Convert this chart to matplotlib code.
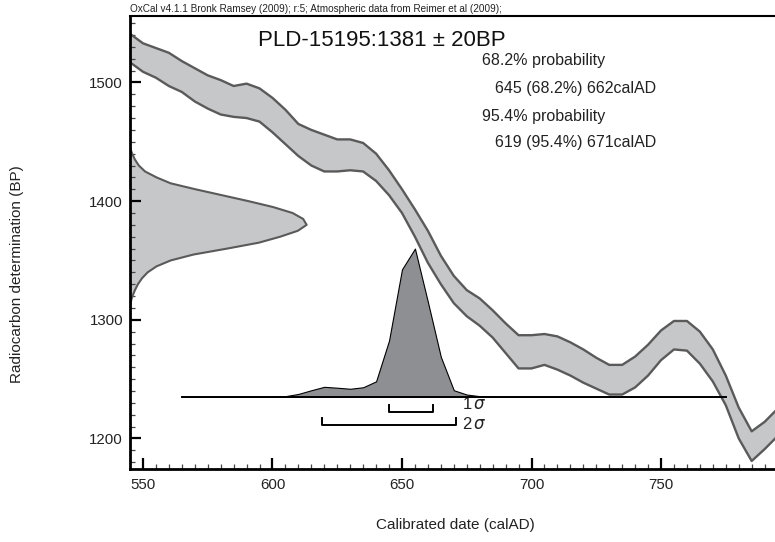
from matplotlib import pyplot as plt
import numpy

plt.rcParams['font.family'] = ['Liberation Sans', 'DejaVu Sans']

# calibration curve band (IntCal09), upper and lower edge in BP
cal_years = [545, 550, 555, 560, 565, 570, 575, 580, 585, 590, 595, 600, 605, 610,
             615, 620, 625, 630, 635, 640, 645, 650, 655, 660, 665, 670, 675, 680,
             685, 690, 695, 700, 705, 710, 715, 720, 725, 730, 735, 740, 745, 750,
             755, 760, 765, 770, 775, 780, 785, 790, 795]
cal_upper = [1541, 1533, 1529, 1525, 1518, 1512, 1506, 1502, 1497, 1499, 1495, 1487,
             1477, 1465, 1460, 1456, 1452, 1452, 1449, 1440, 1426, 1410, 1393, 1375,
             1354, 1337, 1325, 1318, 1308, 1297, 1287, 1287, 1288, 1286, 1281, 1275,
             1268, 1262, 1262, 1269, 1279, 1291, 1299, 1299, 1290, 1275, 1253, 1226,
             1206, 1214, 1225]
cal_lower = [1517, 1509, 1504, 1497, 1492, 1484, 1478, 1473, 1471, 1470, 1467, 1458,
             1448, 1438, 1430, 1425, 1425, 1426, 1425, 1417, 1405, 1390, 1370, 1348,
             1330, 1314, 1303, 1295, 1285, 1272, 1259, 1259, 1262, 1258, 1253, 1247,
             1242, 1237, 1237, 1243, 1253, 1266, 1275, 1274, 1263, 1248, 1228, 1200,
             1181, 1191, 1202]

# radiocarbon measurement 1381 +- 20 BP, relative probability
c14_bp = [1445, 1440, 1435, 1430, 1425, 1420, 1415, 1410, 1405, 1400, 1395, 1390,
          1385, 1380, 1375, 1370, 1365, 1360, 1355, 1350, 1345, 1340, 1335, 1330,
          1325, 1320, 1315, 1310]
c14_prob = [0.0, 0.012, 0.028, 0.05, 0.085, 0.15, 0.23, 0.37, 0.52, 0.67, 0.81, 0.92,
            0.98, 1.0, 0.95, 0.85, 0.73, 0.55, 0.36, 0.23, 0.15, 0.10, 0.068, 0.045,
            0.028, 0.014, 0.004, 0.0]

# calibrated date distribution, relative probability
post_years = [565, 570, 575, 580, 585, 590, 595, 600, 605, 610, 615, 620, 625, 630,
              635, 640, 645, 650, 655, 660, 665, 670, 675, 680, 685, 690, 695, 700,
              705, 710, 715, 720, 725, 730, 735, 740, 745, 750, 755, 760, 765, 770, 775]
post_prob = [0, 0, 0, 0, 0, 0, 0, 0.002, 0.005, 0.02, 0.045, 0.068, 0.062, 0.055,
             0.065, 0.105, 0.38, 0.86, 1.0, 0.64, 0.27, 0.045, 0.016, 0.005, 0.002,
             0, 0, 0, 0, 0, 0, 0, 0, 0, 0, 0, 0, 0, 0, 0, 0, 0, 0]

range_1s = [645, 662]
range_2s = [619, 671]

title = 'PLD-15195:1381 \u00b1 20BP'
header = 'OxCal v4.1.1 Bronk Ramsey (2009); r:5; Atmospheric data from Reimer et al (2009);'
prob_lines = ['68.2% probability', '645 (68.2%) 662calAD',
              '95.4% probability', '619 (95.4%) 671calAD']


def main():
    fig = plt.figure(figsize=(7.75, 5.42), dpi=100)
    ax = fig.add_axes([130 / 775, 1 - 469.3 / 542, 645 / 775, (469.3 - 16) / 542])
    x0, x1 = 545, 794
    y0, y1 = 1174, 1556
    ax.set_xlim(x0, x1)
    ax.set_ylim(y0, y1)

    # calibration band
    ax.fill_between(cal_years, cal_lower, cal_upper, facecolor='#c6c7c9',
                    edgecolor='none', zorder=1)
    ax.plot(cal_years, cal_upper, c='#5a5a5a', lw=1.7, zorder=2)
    ax.plot(cal_years, cal_lower, c='#5a5a5a', lw=1.7, zorder=2)

    # measurement on the y axis
    gx = x0 + numpy.array(c14_prob) * 68.2
    ax.fill_betweenx(c14_bp, x0, gx, facecolor='#c6c7c9', edgecolor='none', zorder=1)
    ax.plot(gx, c14_bp, c='#5a5a5a', lw=1.5, zorder=2)

    # calibrated distribution
    base = 1235
    py = base + numpy.array(post_prob) * 125
    ax.fill_between(post_years, base, py, facecolor='#8e8f93', edgecolor='black',
                    lw=0.8, zorder=3)
    ax.plot([post_years[0], post_years[-1]], [base, base], c='black', lw=1.4, zorder=4)

    # ranges
    for rng, yb, lab, ly in [(range_1s, 1222.6, '1', 1229), (range_2s, 1211.4, '2', 1212.3)]:
        ax.plot([rng[0], rng[0], rng[1], rng[1]], [yb + 6, yb, yb, yb + 6],
                c='black', lw=1.4, zorder=4)
        ax.text(673.3, ly, lab + r'$\,\sigma$', fontsize=12, va='center',
                ha='left', color='#222222')

    ax.spines['right'].set_visible(False)
    for s in ['left', 'bottom']:
        ax.spines[s].set_linewidth(2)
    ax.spines['top'].set_linewidth(1.5)
    ax.set_xticks([550, 600, 650, 700, 750])
    ax.set_xticks(numpy.arange(550, 795, 5), minor=True)
    ax.set_yticks([1200, 1300, 1400, 1500])
    ax.set_yticks(numpy.arange(1180, 1556, 10), minor=True)
    ax.tick_params(which='major', direction='in', length=8, width=1.6,
                   labelsize=10.8, pad=5, colors='black', labelcolor='#222222')
    ax.tick_params(which='minor', direction='in', length=3.8, width=0.9, color='#444444')
    ax.tick_params(axis='x', which='both', top=False)
    ax.tick_params(axis='x', which='major', pad=6)
    ax.tick_params(axis='y', which='both', right=False)

    fig.text(130 / 775, 1 - 9 / 542, header, fontsize=7.2, va='center', ha='left',
             color='#222222')
    fig.text(258 / 775, 1 - 40 / 542, title, fontsize=16, va='center', ha='left',
             color='#111111')
    ys = [61, 88, 117, 143]
    xs = [482, 495, 482, 495]
    for t, xx, yy in zip(prob_lines, xs, ys):
        fig.text(xx / 775, 1 - yy / 542, t, fontsize=11.5, va='center', ha='left',
                 color='#222222')
    fig.text(17 / 775, 1 - 274 / 542, 'Radiocarbon determination (BP)', fontsize=11,
             rotation=90, va='center', ha='center', color='#222222')
    fig.text(455 / 775, 1 - 525 / 542, 'Calibrated date (calAD)', fontsize=11,
             va='center', ha='center', color='#222222')

    fig.savefig('out.png', dpi=100)


if __name__ == '__main__':
    main()
